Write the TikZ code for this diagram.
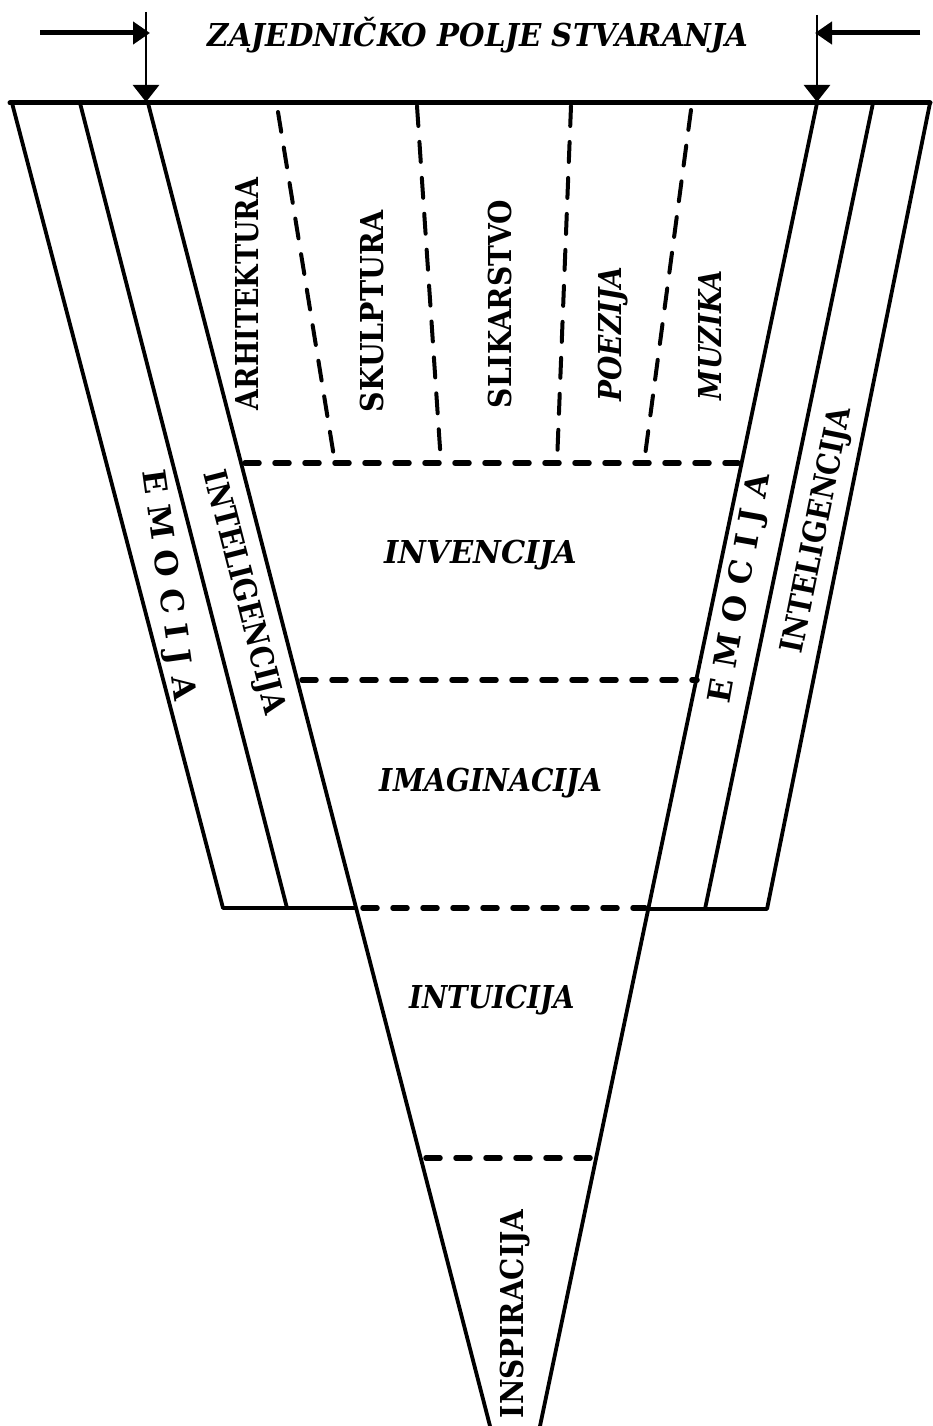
\documentclass[tikz,border=0pt]{standalone}
\usepackage{fontspec}
\IfFontExistsTF{DejaVu Serif Condensed}{\setmainfont{DejaVu Serif Condensed}}{\setmainfont{DejaVu Serif}}
\usepackage{graphicx}
\usetikzlibrary{arrows.meta}
\newcommand{\fitlbl}[2]{\resizebox{#1}{23pt}{\raisebox{0pt}[\fontcharht\font`A][0pt]{#2}}}
\newcommand{\spc}{\kern0.32em}
\tikzset{
  solid line/.style={line width=3.8pt, line cap=round, line join=round},
  top line/.style={line width=5pt, line cap=round},
  dash line/.style={line width=5.5pt, line cap=round, dash pattern=on 14pt off 16pt},
  divider/.style={line width=4pt, line cap=round, dash pattern=on 20pt off 16pt},
  lbl/.style={inner sep=0pt, font=\bfseries\upshape},
  ilbl/.style={inner sep=0pt, font=\bfseries\itshape},
  harrow/.style={line width=5pt, -{Triangle[length=17pt,width=22pt]}},
  varrow/.style={line width=2.6pt, -{Triangle[length=17pt,width=26pt]}},
}
\begin{document}
\begin{tikzpicture}[x=1pt,y=-1pt]
\useasboundingbox (0,0) rectangle (933,1426);
\fill[white] (0,0) rectangle (933,1426);

% key points
\coordinate (TL) at (10,103);
\coordinate (TR) at (930,103);
\coordinate (LO) at (12,103);   \coordinate (LOb) at (223,908);
\coordinate (LS) at (80,103);   \coordinate (LSb) at (287,908);
\coordinate (LM) at (148,103);  \coordinate (LMb) at (490,1426);
\coordinate (RM) at (817,103);  \coordinate (RMb) at (540,1426);
\coordinate (RS) at (873,103);  \coordinate (RSb) at (705,909);
\coordinate (RO) at (930,103);  \coordinate (ROb) at (767,909);
\coordinate (LMx) at (355,908); \coordinate (RMx) at (648,909);

% top bar
\draw[top line] (TL) -- (TR);
% cone and bands
\draw[solid line] (LO) -- (LOb) -- (LMx);
\draw[solid line] (LS) -- (LSb);
\draw[solid line] (LM) -- (LMb);
\draw[solid line] (RM) -- (RMb);
\draw[solid line] (RS) -- (RSb);
\draw[solid line] (RMx) -- (ROb) -- (RO);

% dashed horizontal levels
\coordinate (d1a) at (245,463); \coordinate (d1b) at (738,463);
\coordinate (d2a) at (302,680); \coordinate (d2b) at (697,680);
\coordinate (d3a) at (363,908); \coordinate (d3b) at (645,908);
\coordinate (d4a) at (426,1158); \coordinate (d4b) at (595,1158);
\draw[dash line] (d1a) -- (d1b);
\draw[dash line] (d2a) -- (d2b);
\draw[dash line] (d3a) -- (d3b);
\draw[dash line] (d4a) -- (d4b);

% dashed dividers of the arts
\coordinate (v1a) at (278,112); \coordinate (v1b) at (335,463);
\coordinate (v2a) at (417,106); \coordinate (v2b) at (441,463);
\coordinate (v3a) at (571,106); \coordinate (v3b) at (557,463);
\coordinate (v4a) at (691,110); \coordinate (v4b) at (644,463);
\draw[divider] (v1a) -- (v1b);
\draw[divider] (v2a) -- (v2b);
\draw[divider] (v3a) -- (v3b);
\draw[divider] (v4a) -- (v4b);

% arrows at the top
\coordinate (la0) at (40,33);  \coordinate (la1) at (150,33);
\coordinate (lv0) at (146,12); \coordinate (lv1) at (146,102);
\coordinate (ra0) at (920,33); \coordinate (ra1) at (815,33);
\coordinate (rv0) at (817,15); \coordinate (rv1) at (817,102);
\draw[varrow] (lv0) -- (lv1);
\draw[varrow] (rv0) -- (rv1);
\draw[harrow] (la0) -- (la1);
\draw[harrow] (ra0) -- (ra1);

% title
\node[ilbl] (title) at (478,35) {\fitlbl{540pt}{ZAJEDNIČKO POLJE STVARANJA}};

% arts
\node[lbl, rotate=90] (arh) at (247,294) {\fitlbl{232pt}{ARHITEKTURA}};
\node[lbl, rotate=90] (sku) at (372,311) {\fitlbl{202pt}{SKULPTURA}};
\node[lbl, rotate=90] (sli) at (500,304) {\fitlbl{208pt}{SLIKARSTVO}};
\node[ilbl, rotate=90] (poe) at (610,334) {\fitlbl{135pt}{POEZIJA}};
\node[ilbl, rotate=90] (muz) at (710,335) {\fitlbl{130pt}{MUZIKA}};

% levels
\node[ilbl] (inv) at (481,552) {\fitlbl{193pt}{INVENCIJA}};
\node[ilbl] (ima) at (491,780) {\fitlbl{222pt}{IMAGINACIJA}};
\node[ilbl] (int) at (492,997) {\fitlbl{165pt}{INTUICIJA}};
\node[lbl, rotate=90] (ins) at (512,1314) {\fitlbl{208pt}{INSPIRACIJA}};

% side bands
\node[lbl, rotate=-82] (emL) at (170,585) {\fitlbl{232pt}{E\spc M\spc O\spc C\spc I\spc J\spc A}};
\node[lbl, rotate=-75.6] (inL) at (246,592) {\fitlbl{250pt}{INTELIGENCIJA}};
\node[lbl, rotate=80] (emR) at (738,588) {\fitlbl{232pt}{E\spc M\spc O\spc C\spc I\spc J\spc A}};
\node[lbl, rotate=78.6] (inR) at (815,530) {\fitlbl{250pt}{INTELIGENCIJA}};
\end{tikzpicture}
\end{document}
